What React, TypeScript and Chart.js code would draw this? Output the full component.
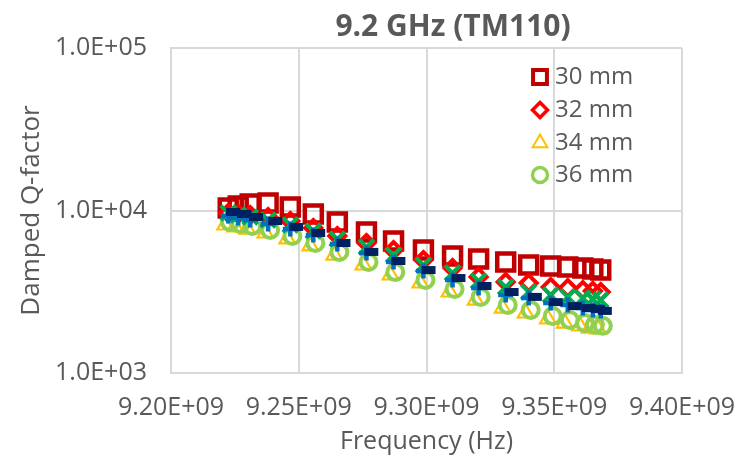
import React, { useEffect, useRef } from 'react';
import { Chart, registerables } from 'chart.js';
import { drawPoint } from 'chart.js/helpers';

Chart.register(...registerables);

const chartTitle = '9.2 GHz (TM110)';
const xAxisTitle = 'Frequency (Hz)';
const yAxisTitle = 'Damped Q-factor';

const xTickValues = [9.2e9, 9.25e9, 9.3e9, 9.35e9, 9.4e9];
const yTickValues = [1e3, 1e4, 1e5];

// Resonant frequencies (GHz) of each sweep
const freqA = [9.2224, 9.2263, 9.231, 9.238, 9.2467, 9.2557, 9.2651, 9.2765, 9.2871, 9.2988, 9.3102, 9.3204, 9.331, 9.34, 9.3486, 9.3553, 9.3612, 9.3651, 9.3682];
const freqTri = [9.2212, 9.2251, 9.2298, 9.2369, 9.2455, 9.2545, 9.2639, 9.2753, 9.2859, 9.2976, 9.309, 9.3192, 9.3298, 9.3388, 9.3475, 9.3541, 9.36, 9.3639, 9.3671];
const freqCirc = [9.2231, 9.2271, 9.2318, 9.2388, 9.2475, 9.2565, 9.2659, 9.2773, 9.2878, 9.2996, 9.311, 9.3212, 9.3318, 9.3408, 9.3494, 9.3561, 9.362, 9.3659, 9.369];
const freqDash = [9.2243, 9.2286, 9.2333, 9.2408, 9.249, 9.2576, 9.2675, 9.2784, 9.289, 9.3008, 9.3125, 9.3227, 9.3333, 9.3424, 9.3506, 9.358, 9.3635, 9.3671, 9.3698];

// Damped Q-factor per damper length
const q30 = [10360, 10660, 10970, 11120, 10510, 9520, 8500, 7370, 6490, 5710, 5250, 5030, 4820, 4620, 4550, 4490, 4430, 4370, 4300];
const q32 = [9650, 9520, 9380, 9120, 8620, 7800, 6970, 6310, 5710, 4960, 4430, 3900, 3630, 3580, 3380, 3330, 3240, 3200, 3150];
const q34 = [8140, 7920, 7690, 7270, 6680, 6050, 5320, 4620, 4010, 3580, 3150, 2810, 2510, 2340, 2150, 2030, 1950, 1890, 1870];
const q36 = [8500, 8260, 8030, 7590, 6970, 6310, 5560, 4820, 4180, 3740, 3290, 2940, 2620, 2440, 2240, 2120, 2030, 1980, 1950];
const q38 = [9650, 9380, 9120, 8740, 8140, 7480, 6680, 5960, 5320, 4620, 4120, 3680, 3380, 3150, 3020, 2940, 2890, 2850, 2810];
const q40 = [9250, 8990, 8740, 8260, 7690, 7070, 6220, 5480, 4820, 4240, 3730, 3330, 3020, 2890, 2700, 2620, 2510, 2440, 2410];
const q42 = [9790, 9520, 9120, 8620, 7920, 7270, 6310, 5560, 4890, 4300, 3840, 3430, 3150, 2940, 2730, 2580, 2510, 2480, 2410];

const seriesNames = ['30 mm', '32 mm', '34 mm', '36 mm', '38 mm', '40 mm', '42 mm'];
const legendCount = 4;

const TEXT = '#595959';
const GRID = '#D9D9D9';
const FONT = '"Open Sans", "DejaVu Sans", sans-serif';

type MarkerStyle = { pointStyle: string; radius: number; borderWidth: number; color: string };

const markers: MarkerStyle[] = [
  { pointStyle: 'rect', radius: 12, borderWidth: 4.5, color: '#C00000' },
  { pointStyle: 'rectRot', radius: 8, borderWidth: 4, color: '#FF0000' },
  { pointStyle: 'triangle', radius: 9, borderWidth: 2.2, color: '#FFC000' },
  { pointStyle: 'circle', radius: 8, borderWidth: 4, color: '#92D050' },
  { pointStyle: 'crossRot', radius: 10.5, borderWidth: 4, color: '#00B050' },
  { pointStyle: 'cross', radius: 7.5, borderWidth: 4.5, color: '#0070C0' },
  { pointStyle: 'line', radius: 7, borderWidth: 8, color: '#002060' },
];

const legendMarkers: MarkerStyle[] = [
  { pointStyle: 'rect', radius: 9.8, borderWidth: 4, color: '#C00000' },
  { pointStyle: 'rectRot', radius: 7.5, borderWidth: 3.5, color: '#FF0000' },
  { pointStyle: 'triangle', radius: 8.5, borderWidth: 2, color: '#FFC000' },
  { pointStyle: 'circle', radius: 7.5, borderWidth: 3.5, color: '#92D050' },
];

const seriesFreqs = [freqA, freqA, freqTri, freqCirc, freqA, freqA, freqDash];
const seriesQ = [q30, q32, q34, q36, q38, q40, q42];

function sci(v: number, digits: number): string {
  const [mant, exp] = v.toExponential(digits).split('e');
  const sign = exp[0] === '-' ? '-' : '+';
  const mag = exp.replace(/[+-]/, '').padStart(2, '0');
  return `${mant}E${sign}${mag}`;
}

const titlePlugin = {
  id: 'chartHeading',
  afterDraw(chart: any) {
    const ctx = chart.ctx;
    ctx.save();
    ctx.font = `bold 30px ${FONT}`;
    ctx.fillStyle = TEXT;
    ctx.textAlign = 'center';
    ctx.textBaseline = 'middle';
    ctx.fillText(chartTitle, 453, 27);
    ctx.restore();
  },
};

const legendPlugin = {
  id: 'insetLegend',
  afterDraw(chart: any) {
    const ctx = chart.ctx;
    const area = chart.chartArea;
    const markerX = area.right - 142;
    const textX = area.right - 127;
    const rowY = [area.top + 29, area.top + 62, area.top + 95, area.top + 127];
    ctx.save();
    for (let i = 0; i < legendCount; i++) {
      const m = legendMarkers[i];
      ctx.strokeStyle = m.color;
      ctx.fillStyle = 'rgba(0,0,0,0)';
      ctx.lineWidth = m.borderWidth;
      drawPoint(ctx, { pointStyle: m.pointStyle, radius: m.radius, borderWidth: m.borderWidth, rotation: 0 } as any, markerX, rowY[i]);
      ctx.font = `24px ${FONT}`;
      ctx.fillStyle = TEXT;
      ctx.textAlign = 'left';
      ctx.textBaseline = 'middle';
      ctx.fillText(seriesNames[i], textX, rowY[i]);
    }
    ctx.restore();
  },
};

export default function App() {
  const canvasRef = useRef<HTMLCanvasElement | null>(null);

  useEffect(() => {
    let chart: Chart | null = null;
    let cancelled = false;

    const build = () => {
      if (cancelled || !canvasRef.current) return;
      const datasets = seriesNames.map((name, i) => ({
        label: name,
        data: seriesFreqs[i].map((f, j) => ({ x: f * 1e9, y: seriesQ[i][j] })),
        showLine: false,
        pointStyle: markers[i].pointStyle,
        pointRadius: markers[i].radius,
        pointHoverRadius: markers[i].radius,
        pointBorderWidth: markers[i].borderWidth,
        pointHoverBorderWidth: markers[i].borderWidth,
        borderColor: markers[i].color,
        backgroundColor: 'rgba(0,0,0,0)',
        order: seriesNames.length - i,
      }));

      chart = new Chart(canvasRef.current, {
        type: 'scatter',
        data: { datasets },
        plugins: [titlePlugin, legendPlugin],
        options: {
          animation: false,
          responsive: false,
          devicePixelRatio: 1,
          layout: { padding: { left: 0, right: 55, top: 48, bottom: 0 } },
          plugins: {
            legend: { display: false },
            title: { display: false },
            tooltip: { enabled: false },
          },
          scales: {
            x: {
              type: 'linear',
              min: xTickValues[0],
              max: xTickValues[xTickValues.length - 1],
              afterBuildTicks: (scale: any) => {
                scale.ticks = xTickValues.map((v) => ({ value: v }));
              },
              afterFit: (scale: any) => {
                scale.height = 83;
                scale.paddingLeft = 0;
                scale.paddingRight = 0;
              },
              grid: { color: GRID, lineWidth: 2, drawTicks: false },
              border: { color: GRID, width: 2 },
              ticks: {
                color: TEXT,
                font: { family: FONT, size: 25 },
                padding: 20,
                maxRotation: 0,
                autoSkip: false,
                callback: (v: any) => sci(Number(v), 2),
              },
              title: {
                display: true,
                text: xAxisTitle,
                color: TEXT,
                font: { family: FONT, size: 25 },
                padding: { top: 0, bottom: -1 },
              },
            },
            y: {
              type: 'logarithmic',
              min: yTickValues[0],
              max: yTickValues[yTickValues.length - 1],
              afterBuildTicks: (scale: any) => {
                scale.ticks = yTickValues.map((v) => ({ value: v }));
              },
              afterFit: (scale: any) => {
                scale.width = 171;
                scale.paddingTop = 0;
                scale.paddingBottom = 0;
              },
              grid: { color: GRID, lineWidth: 2, drawTicks: false },
              border: { color: GRID, width: 2 },
              ticks: {
                color: TEXT,
                font: { family: FONT, size: 25 },
                padding: 24,
                autoSkip: false,
                callback: (v: any) => sci(Number(v), 1),
              },
              title: {
                display: true,
                text: yAxisTitle,
                color: TEXT,
                font: { family: FONT, size: 26 },
                padding: { top: 16, bottom: 0 },
              },
            },
          },
        },
      } as any);
    };

    const fontLoads = [
      `25px "Open Sans"`,
      `bold 30px "Open Sans"`,
    ].map((f) => (document as any).fonts?.load(f).catch(() => null));
    Promise.all(fontLoads).then(build, build);

    return () => {
      cancelled = true;
      if (chart) chart.destroy();
    };
  }, []);

  return (
    <div style={{ position: 'absolute', left: 0, top: 0, width: 737, height: 456, background: '#fff' }}>
      <canvas ref={canvasRef} width={737} height={456} style={{ display: 'block', width: 737, height: 456 }} />
    </div>
  );
}
